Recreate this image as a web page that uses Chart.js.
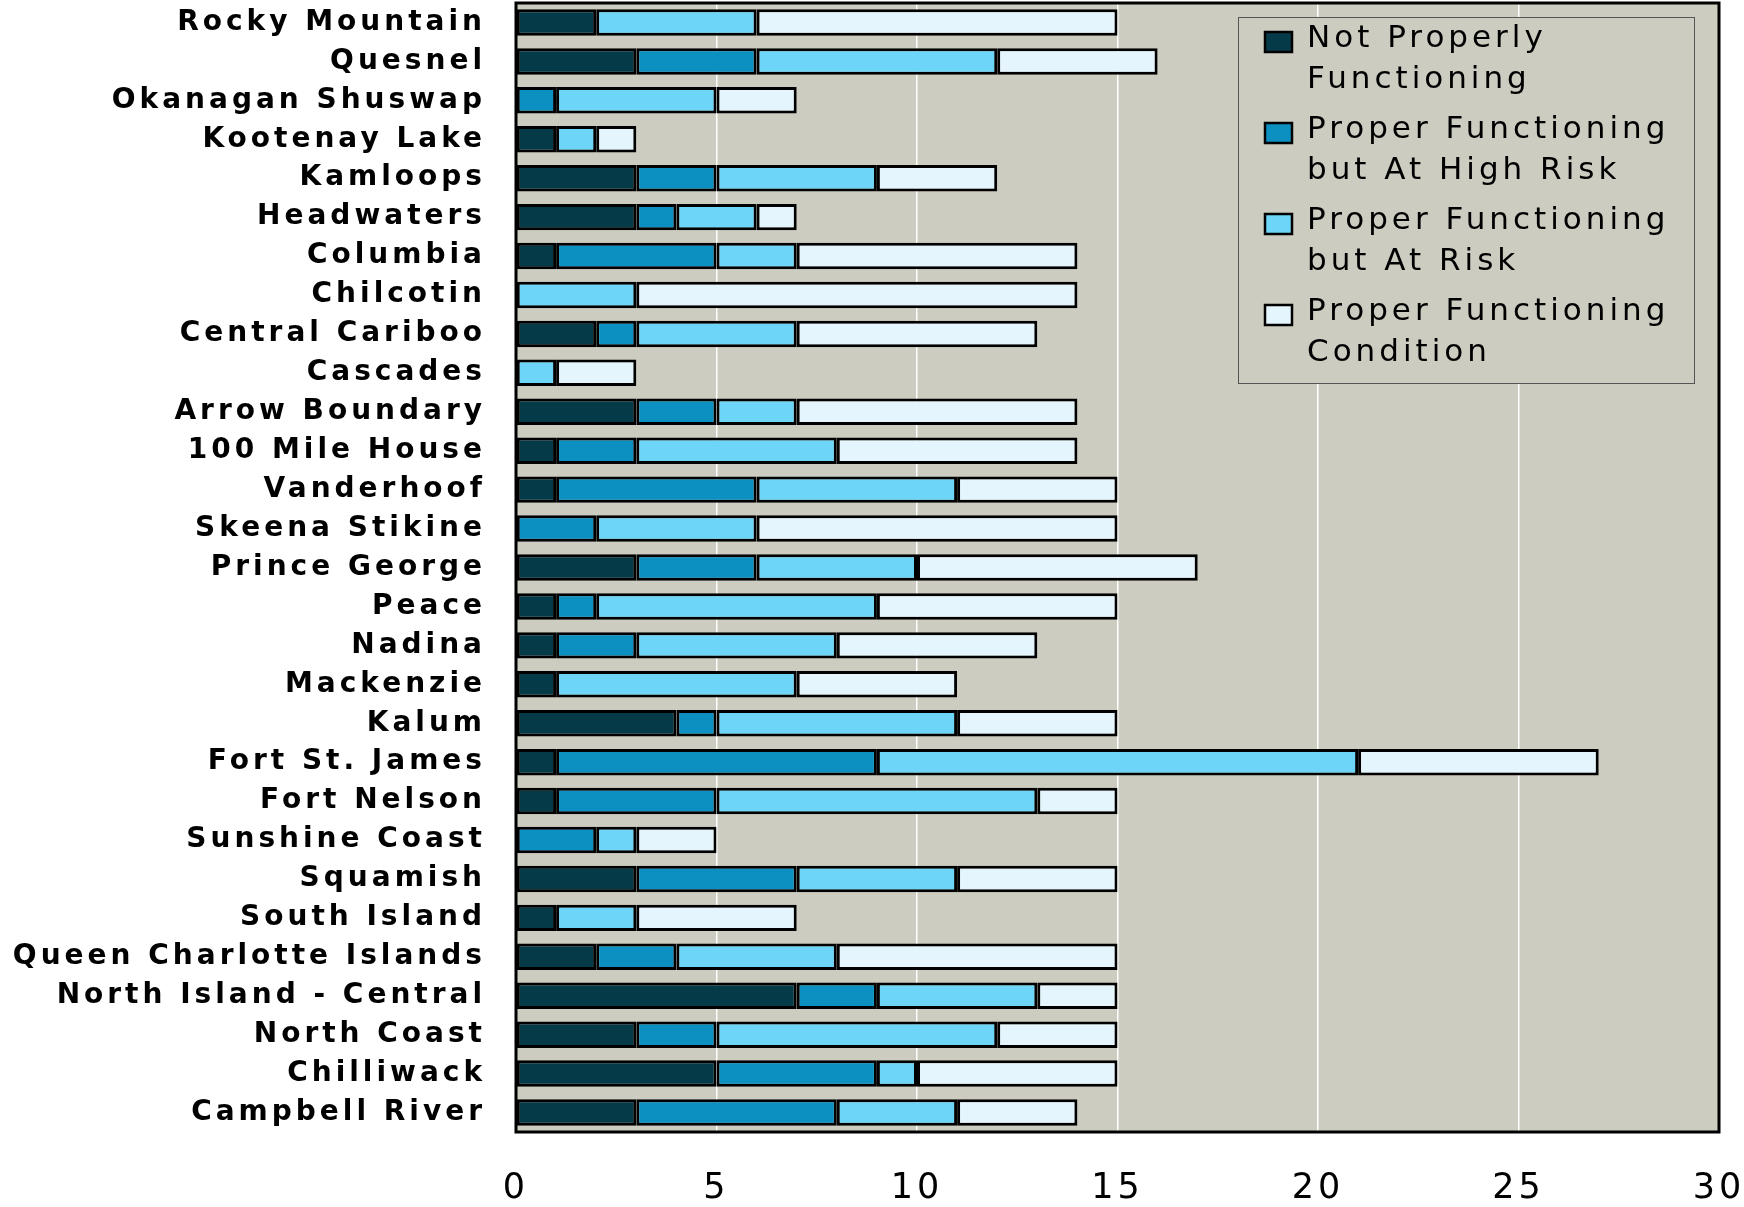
<!DOCTYPE html>
<html>
<head>
<meta charset="utf-8">
<script src="https://cdn.jsdelivr.net/npm/chart.js@4.4.1/dist/chart.umd.min.js"></script>
<style>
  html, body { margin: 0; padding: 0; background: #fff; }
  #wrap { width: 1744px; height: 1207px; }
</style>
</head>
<body>
<div id="wrap"><canvas id="chart"></canvas></div>
<script>
const regions = [
    'Rocky Mountain', 'Quesnel', 'Okanagan Shuswap', 'Kootenay Lake', 'Kamloops',
    'Headwaters', 'Columbia', 'Chilcotin', 'Central Cariboo', 'Cascades',
    'Arrow Boundary', '100 Mile House', 'Vanderhoof', 'Skeena Stikine', 'Prince George',
    'Peace', 'Nadina', 'Mackenzie', 'Kalum', 'Fort St. James',
    'Fort Nelson', 'Sunshine Coast', 'Squamish', 'South Island', 'Queen Charlotte Islands',
    'North Island - Central', 'North Coast', 'Chilliwack', 'Campbell River'
];
const notProperly     = [2, 3, 0, 1, 3, 3, 1, 0, 2, 0, 3, 1, 1, 0, 3, 1, 1, 1, 4, 1, 1, 0, 3, 1, 2, 7, 3, 5, 3];
const highRisk        = [0, 3, 1, 0, 2, 1, 4, 0, 1, 0, 2, 2, 5, 2, 3, 1, 2, 0, 1, 8, 4, 2, 4, 0, 2, 2, 2, 4, 5];
const atRisk          = [4, 6, 4, 1, 4, 2, 2, 3, 4, 1, 2, 5, 5, 4, 4, 7, 5, 6, 6, 12, 8, 1, 4, 2, 4, 4, 7, 1, 3];
const properCondition = [9, 4, 2, 1, 3, 1, 7, 11, 6, 2, 7, 6, 4, 9, 7, 6, 5, 4, 4, 6, 2, 2, 4, 4, 7, 2, 3, 5, 3];

const seriesNames = [
    'Not Properly Functioning',
    'Proper Functioning but At High Risk',
    'Proper Functioning but At Risk',
    'Proper Functioning Condition'
];
const legendLines = [
    ['Not Properly', 'Functioning'],
    ['Proper Functioning', 'but At High Risk'],
    ['Proper Functioning', 'but At Risk'],
    ['Proper Functioning', 'Condition']
];
const xTicks = [0, 5, 10, 15, 20, 25, 30];

const colors = ['#053B49', '#0C90C1', '#6DD5F7', '#E4F5FD'];
const plotBg = '#CCCCC1';

// grey plot area, spaced-out lettering like the original export
const plotFrame = {
    id: 'plotFrame',
    beforeDraw(chart) {
        const {ctx, chartArea: {left, top, width, height}} = chart;
        ctx.letterSpacing = '4px';
        ctx.save();
        ctx.fillStyle = plotBg;
        ctx.fillRect(left, top, width, height);
        ctx.restore();
    },
    afterDatasetsDraw(chart) {
        const {ctx, chartArea: {left, top, width, height}} = chart;
        ctx.save();
        ctx.strokeStyle = '#000';
        ctx.lineWidth = 3;
        ctx.strokeRect(left, top, width, height);
        ctx.restore();
    }
};

// legend box drawn inside the plot, two lines per entry
const boxLegend = {
    id: 'boxLegend',
    afterDraw(chart) {
        const {ctx, data, chartArea: {right, top}} = chart;
        const x0 = right - 481;
        const y0 = top + 14;

        ctx.save();
        ctx.fillStyle = plotBg;
        ctx.fillRect(x0, y0, 456, 366);
        ctx.strokeStyle = '#555';
        ctx.lineWidth = 1;
        ctx.strokeRect(x0 + 0.5, y0 + 0.5, 456, 366);

        ctx.font = '31px "DejaVu Sans"';
        ctx.letterSpacing = '4px';
        ctx.textAlign = 'left';
        ctx.textBaseline = 'middle';

        data.datasets.forEach((ds, i) => {
            const y = y0 + 22 + i * 91;
            ctx.fillStyle = ds.backgroundColor;
            ctx.fillRect(x0 + 27, y - 7, 27, 20);
            ctx.strokeStyle = '#000';
            ctx.lineWidth = 2.5;
            ctx.strokeRect(x0 + 27, y - 7, 27, 20);

            ctx.fillStyle = '#000';
            legendLines[i].forEach((line, j) => {
                ctx.fillText(line, x0 + 69, y + j * 41);
            });
        });
        ctx.restore();
    }
};

// fixed axis sizes, and no extra room for half-labels at the ends
function noEdgePadding(scale) {
    scale.paddingTop = 0;
    scale.paddingBottom = 0;
    scale.paddingLeft = 0;
    scale.paddingRight = 0;
}

const series = [notProperly, highRisk, atRisk, properCondition];

new Chart(document.getElementById('chart'), {
    type: 'bar',
    data: {
        labels: regions,
        datasets: series.map((values, i) => ({
            label: seriesNames[i],
            data: values,
            backgroundColor: colors[i],
            borderColor: '#000',
            borderWidth: 3,
            borderSkipped: false,
            categoryPercentage: 1,
            barPercentage: 0.68
        }))
    },
    options: {
        indexAxis: 'y',
        responsive: true,
        maintainAspectRatio: false,
        animation: false,
        layout: {
            autoPadding: false,
            padding: {top: 3, right: 25, left: 0, bottom: 0}
        },
        plugins: {
            legend: {display: false},
            tooltip: {enabled: false}
        },
        scales: {
            x: {
                stacked: true,
                min: 0,
                max: 30,
                afterBuildTicks: scale => {
                    scale.ticks = xTicks.map(v => ({value: v}));
                },
                ticks: {
                    padding: 36,
                    color: '#000',
                    font: {family: '"DejaVu Sans"', size: 35}
                },
                grid: {
                    color: '#fff',
                    lineWidth: 1.5,
                    drawTicks: false
                },
                border: {display: false},
                afterFit: scale => {
                    scale.height = 75;
                    noEdgePadding(scale);
                }
            },
            y: {
                stacked: true,
                ticks: {
                    autoSkip: false,
                    padding: 30,
                    color: '#000',
                    font: {family: '"DejaVu Sans"', size: 28, weight: 'bold'}
                },
                grid: {display: false, drawTicks: false},
                border: {display: false},
                afterFit: scale => {
                    scale.width = 516;
                    noEdgePadding(scale);
                }
            }
        }
    },
    plugins: [plotFrame, boxLegend]
});
</script>
</body>
</html>
